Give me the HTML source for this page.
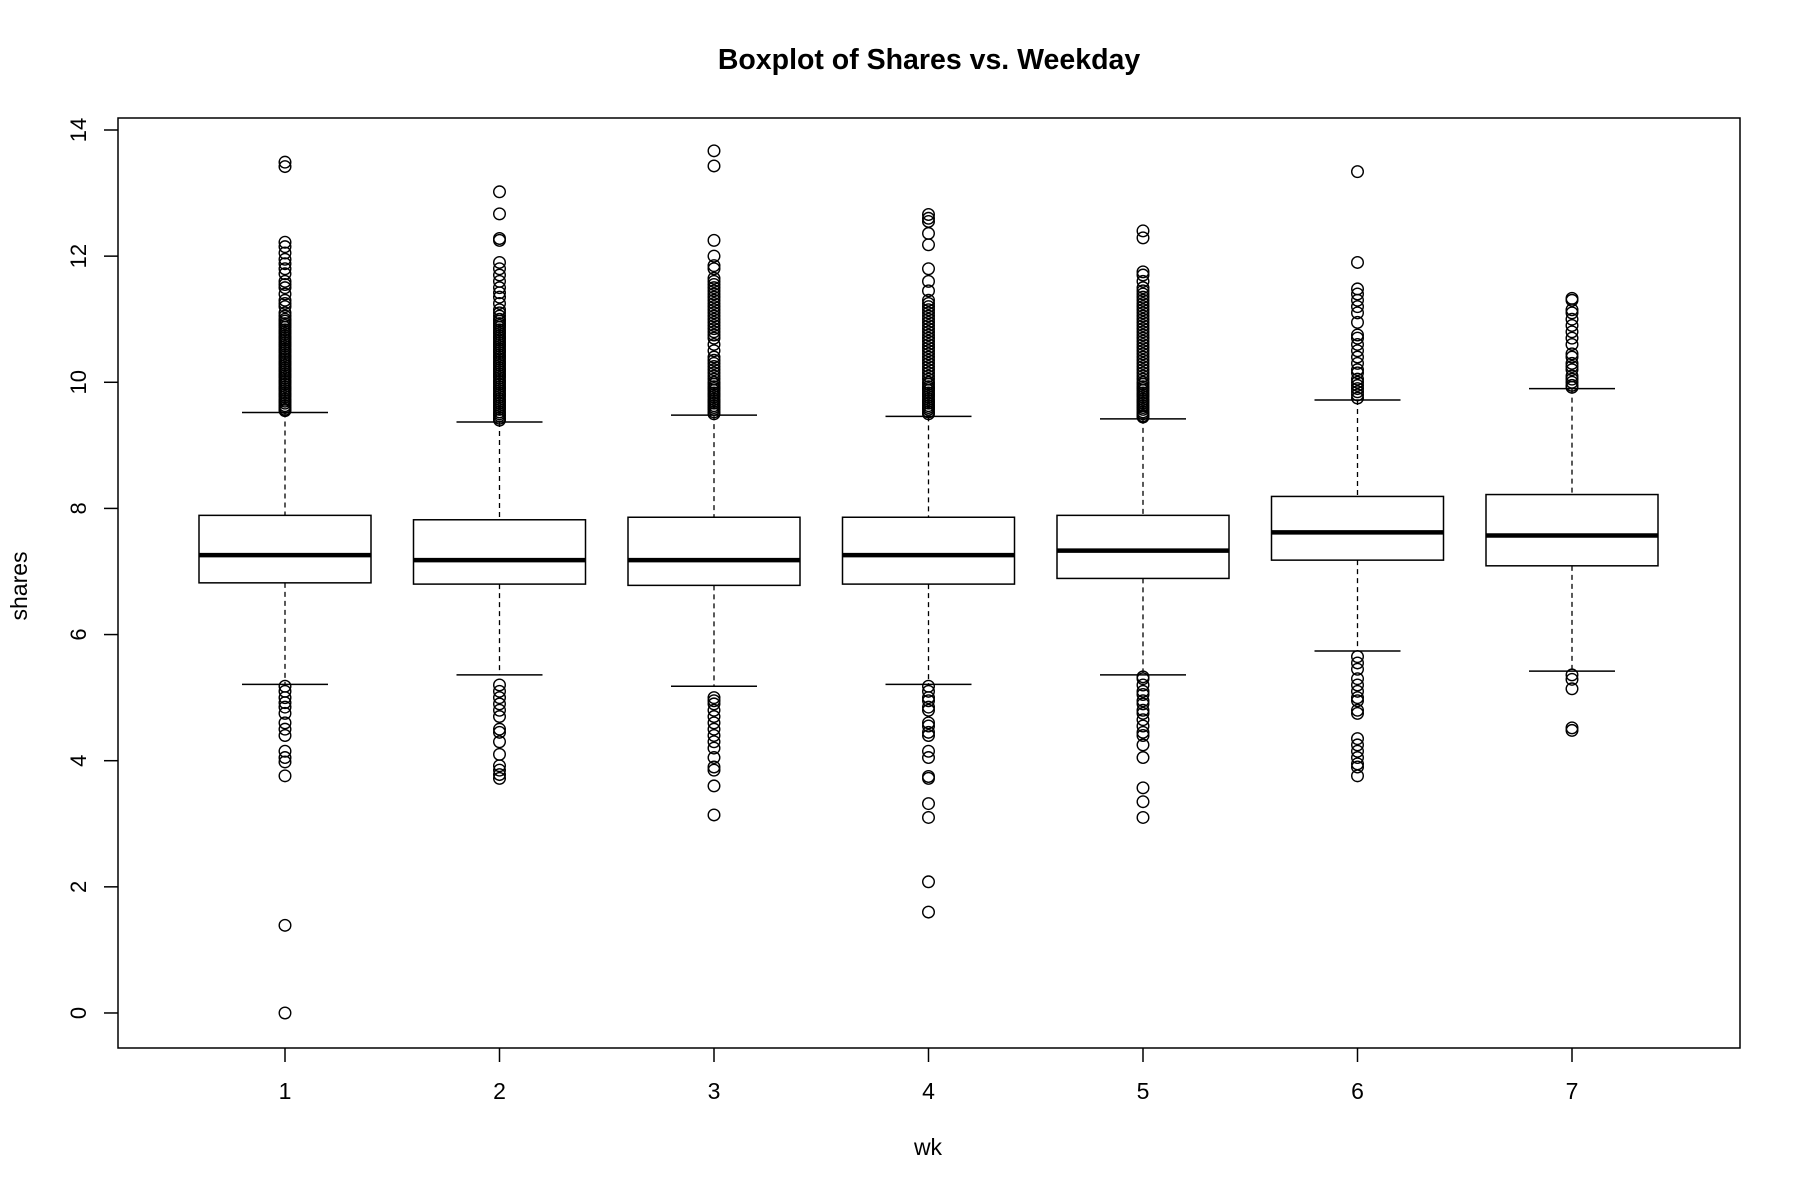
<!DOCTYPE html>
<html><head><meta charset="utf-8"><style>
body{margin:0;background:#fff}
svg{display:block;font-family:"Liberation Sans",Arial,sans-serif}
</style></head><body>
<svg id="chart" width="1800" height="1195" viewBox="0 0 1800 1195">
<text x="929" y="69" text-anchor="middle" font-size="28.5" font-weight="bold">Boxplot of Shares vs. Weekday</text>
<rect x="118" y="118" width="1622" height="930" fill="none" stroke="#000" stroke-width="1.5"/>
<text transform="translate(27,586) rotate(-90)" text-anchor="middle" font-size="23">shares</text>
<text x="928" y="1155" text-anchor="middle" font-size="23">wk</text>
<g id="axes"></g><g id="marks"></g>
</svg>
<script>
const categories=["1","2","3","4","5","6","7"];
const yTicks=[0,2,4,6,8,10,12,14];
const lowWhisker=[5.21,5.36,5.18,5.21,5.36,5.74,5.42];
const q1=[6.82,6.80,6.78,6.80,6.89,7.18,7.09];
const medians=[7.26,7.18,7.18,7.26,7.33,7.62,7.57];
const q3=[7.89,7.82,7.86,7.86,7.89,8.19,8.22];
const highWhisker=[9.52,9.37,9.48,9.46,9.42,9.72,9.90];
const outliers1=[13.49,13.42,12.22,12.15,12.05,11.95,11.88,11.8,11.72,11.6,11.55,11.5,11.4,11.3,11.25,11.2,11.1,11.05,11.0,10.97,10.93,10.9,10.87,10.83,10.8,10.77,10.73,10.7,10.67,10.63,10.6,10.57,10.53,10.5,10.47,10.43,10.4,10.37,10.33,10.3,10.27,10.23,10.2,10.17,10.13,10.1,10.07,10.03,10.0,9.97,9.93,9.9,9.87,9.83,9.8,9.77,9.73,9.7,9.67,9.63,9.6,9.57,9.55,5.18,5.1,5.0,4.92,4.85,4.75,4.6,4.5,4.4,4.15,4.05,3.98,3.76,1.39,0];
const outliers2=[13.02,12.67,12.28,12.25,11.9,11.8,11.7,11.6,11.5,11.42,11.35,11.25,11.15,11.1,11.05,11.0,10.97,10.93,10.9,10.87,10.83,10.8,10.77,10.73,10.7,10.67,10.63,10.6,10.57,10.53,10.5,10.47,10.43,10.4,10.37,10.33,10.3,10.27,10.23,10.2,10.17,10.13,10.1,10.07,10.03,10.0,9.97,9.93,9.9,9.87,9.83,9.8,9.77,9.73,9.7,9.67,9.63,9.6,9.57,9.53,9.5,9.47,9.43,9.4,5.2,5.1,5.0,4.9,4.8,4.7,4.5,4.45,4.3,4.1,3.92,3.85,3.78,3.72];
const outliers3=[13.67,13.43,12.25,12.0,11.85,11.8,11.65,11.6,11.55,11.5,11.45,11.4,11.35,11.3,11.25,11.2,11.15,11.1,11.05,11.0,10.95,10.9,10.85,10.8,10.75,10.7,10.6,10.5,10.4,10.35,10.3,10.25,10.2,10.15,10.1,10.05,10.0,9.97,9.93,9.9,9.87,9.83,9.8,9.77,9.73,9.7,9.67,9.63,9.6,9.57,9.53,9.5,5.0,4.95,4.9,4.8,4.7,4.6,4.5,4.4,4.3,4.2,4.05,3.9,3.85,3.6,3.14];
const outliers4=[12.66,12.6,12.55,12.36,12.18,11.8,11.6,11.45,11.3,11.25,11.2,11.15,11.1,11.05,11.0,10.95,10.9,10.85,10.8,10.75,10.7,10.65,10.6,10.55,10.5,10.45,10.4,10.35,10.3,10.25,10.2,10.15,10.1,10.05,10.0,9.97,9.93,9.9,9.87,9.83,9.8,9.77,9.73,9.7,9.67,9.63,9.6,9.57,9.53,9.5,5.18,5.1,5.0,4.95,4.85,4.8,4.6,4.55,4.45,4.4,4.15,4.05,3.75,3.72,3.32,3.1,2.08,1.6];
const outliers5=[12.4,12.29,11.75,11.7,11.6,11.5,11.45,11.4,11.35,11.3,11.25,11.2,11.15,11.1,11.05,11.0,10.95,10.9,10.85,10.8,10.75,10.7,10.65,10.6,10.55,10.5,10.45,10.4,10.35,10.3,10.25,10.2,10.15,10.1,10.05,10.0,9.97,9.93,9.9,9.87,9.83,9.8,9.77,9.73,9.7,9.67,9.63,9.6,9.57,9.53,9.5,9.47,9.45,5.33,5.3,5.2,5.1,5.05,4.95,4.9,4.8,4.75,4.65,4.55,4.45,4.4,4.25,4.05,3.57,3.35,3.1];
const outliers6=[13.34,11.9,11.48,11.4,11.3,11.2,11.1,10.95,10.75,10.7,10.6,10.5,10.4,10.3,10.2,10.15,10.05,10.0,9.95,9.9,9.85,9.8,9.75,5.65,5.55,5.45,5.3,5.2,5.1,5.0,4.95,4.8,4.75,4.35,4.25,4.15,4.05,3.95,3.9,3.76];
const outliers7=[11.33,11.3,11.15,11.1,11.0,10.9,10.8,10.7,10.6,10.45,10.4,10.3,10.25,10.2,10.1,10.05,10.0,9.95,9.92,5.36,5.29,5.14,4.52,4.48];
const outlierSets=[outliers1,outliers2,outliers3,outliers4,outliers5,outliers6,outliers7];

const NS="http://www.w3.org/2000/svg";
const xScale=i=>285+i*214.5;
const yScale=v=>130+(14-v)*63.07;
const axes=document.getElementById('axes'),marks=document.getElementById('marks');
function mk(tag,attrs,parent){const e=document.createElementNS(NS,tag);for(const k in attrs)e.setAttribute(k,attrs[k]);parent.appendChild(e);return e;}
yTicks.forEach(t=>{
  const y=yScale(t);
  const tk=mk('line',{x1:104,x2:118,y1:y,y2:y,stroke:'#000','stroke-width':1.5},axes);
  
  
  const lb=mk('text',{transform:`translate(86,${y}) rotate(-90)`,'text-anchor':'middle','font-size':22},axes);
  lb.textContent=t;
  
  
});
categories.forEach((c,i)=>{
  const x=xScale(i);
  const tk=mk('line',{x1:x,x2:x,y1:1048,y2:1062,stroke:'#000','stroke-width':1.5},axes);
  
  
  const lb=mk('text',{x:x,y:1099,'text-anchor':'middle','font-size':23},axes);
  lb.textContent=c;
  
  
  const g=mk('g',{},marks);
  
  
  const hw=86,cw=43;
  mk('line',{x1:x,x2:x,y1:yScale(highWhisker[i]),y2:yScale(q3[i]),stroke:'#000','stroke-width':1.3,'stroke-dasharray':'5,4'},g);
  mk('line',{x1:x,x2:x,y1:yScale(q1[i]),y2:yScale(lowWhisker[i]),stroke:'#000','stroke-width':1.3,'stroke-dasharray':'5,4'},g);
  mk('line',{x1:x-cw,x2:x+cw,y1:yScale(highWhisker[i]),y2:yScale(highWhisker[i]),stroke:'#000','stroke-width':1.5},g);
  mk('line',{x1:x-cw,x2:x+cw,y1:yScale(lowWhisker[i]),y2:yScale(lowWhisker[i]),stroke:'#000','stroke-width':1.5},g);
  mk('rect',{x:x-hw,y:yScale(q3[i]),width:2*hw,height:yScale(q1[i])-yScale(q3[i]),fill:'#fff',stroke:'#000','stroke-width':1.5},g);
  mk('line',{x1:x-hw,x2:x+hw,y1:yScale(medians[i]),y2:yScale(medians[i]),stroke:'#000','stroke-width':4.5},g);
  outlierSets[i].forEach(v=>{
    const p=mk('circle',{cx:x,cy:yScale(v),r:5.8,fill:'none',stroke:'#000','stroke-width':1.4},g);
    
    
  });
});
</script>
</body></html>
